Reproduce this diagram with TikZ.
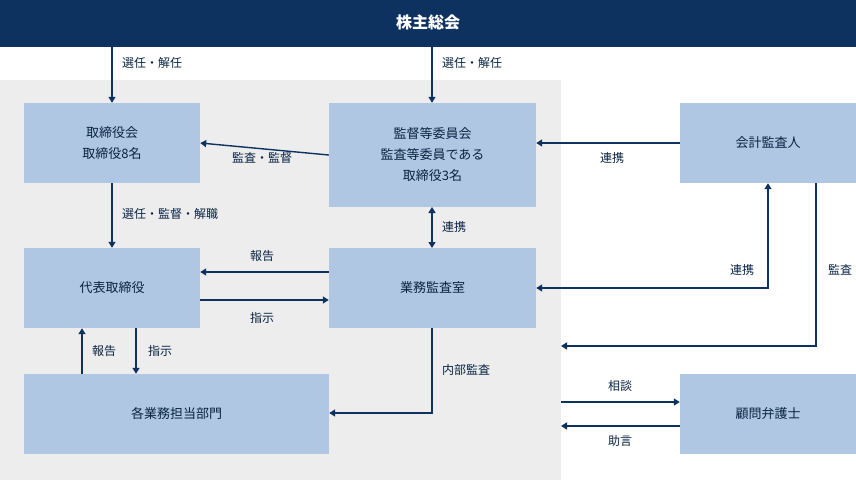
\documentclass[tikz,border=0pt]{standalone}
\usepackage{fontspec}
\setmainfont{Noto Sans CJK JP}
\usetikzlibrary{positioning,arrows.meta}
\definecolor{navy}{HTML}{0E3260}
\definecolor{boxblue}{HTML}{B0C7E3}
\definecolor{bggray}{HTML}{EDEDED}
\tikzset{
	box/.style={fill=boxblue,draw=none,align=center,font=\fontsize{13}{21}\selectfont,text=navy!70!black,inner sep=0pt},
	lbl/.style={font=\fontsize{12}{14}\selectfont,text=navy!70!black,inner sep=0pt},
	arr/.style={draw=navy,line width=1.4pt,-{Triangle[length=6pt,width=7pt]}},
	darr/.style={arr,{Triangle[length=6pt,width=7pt]}-{Triangle[length=6pt,width=7pt]}}
}
\begin{document}
\begin{tikzpicture}[x=1pt,y=-1pt]
	\useasboundingbox (0,0) rectangle (856,480);
	%background
	\fill[bggray]	(0,80) rectangle (561,480);
	\fill[navy]		(0,0) rectangle (856,47);
	\node[text=white,font=\fontsize{16}{18}\selectfont\bfseries] (agm) at (428,22) {株主総会};
	
	%boxes
	\node[box,minimum width=176,minimum height=80]	(board) at (112,143) {取締役会\\取締役8名};
	\node[box,minimum width=207,minimum height=104]	(audit) at (432.5,155) {監督等委員会\\監査等委員である\\取締役3名};
	\node[box,minimum width=176,minimum height=80]	(cpa) at (768,143) {会計監査人};
	\node[box,minimum width=176,minimum height=80]	(ceo) at (112,288) {代表取締役};
	\node[box,minimum width=207,minimum height=80]	(office) at (432.5,288) {業務監査室};
	\node[box,minimum width=305,minimum height=80]	(dept) at (176.5,414) {各業務担当部門};
	\node[box,minimum width=176,minimum height=80]	(lawyer) at (768,414) {顧問弁護士};
	
	%free ends
	\coordinate (c1) at (768,288);
	\coordinate (c2) at (816,346);
	\coordinate (c3) at (561,346);
	\coordinate (c4) at (432,413);
	\coordinate (c5) at (561,402);
	\coordinate (c6) at (561,426);
	
	%connectors
	\draw[arr]	(agm.south -| board) -- (board);
	\draw[arr]	(432,47) -- (audit.north -| 432,0);
	\draw[arr]	(audit.west) -- (board.east);
	\draw[arr]	(cpa.west) -- (audit.east |- cpa);
	\draw[arr]	(board) -- (ceo);
	\draw[darr]	(432,207) -- (432,248);
	\draw[arr]	(office.west |- 0,272) -- (ceo.east |- 0,272);
	\draw[arr]	(ceo.east |- 0,300) -- (office.west |- 0,300);
	\draw[darr]	(office.east) -- (c1) -- (cpa.south -| c1);
	\draw[arr]	(cpa.south -| c2) -- (c2) -- (c3);
	\draw[arr]	(office.south -| c4) -- (c4) -- (dept.east |- c4);
	\draw[arr]	(dept.north -| 82,0) -- (ceo.south -| 82,0);
	\draw[arr]	(ceo.south -| 136,0) -- (dept.north -| 136,0);
	\draw[arr]	(c5) -- (lawyer.west |- c5);
	\draw[arr]	(lawyer.west |- c6) -- (c6);
	
	%labels
	\node[lbl,anchor=west] at (122,63)	{選任・解任};
	\node[lbl,anchor=west] at (442,63)	{選任・解任};
	\node[lbl] at (262,158)				{監査・監督};
	\node[lbl] at (612,158)				{連携};
	\node[lbl,anchor=west] at (122,214)	{選任・監督・解職};
	\node[lbl,anchor=west] at (442,227)	{連携};
	\node[lbl] at (262,256)				{報告};
	\node[lbl] at (262,318)				{指示};
	\node[lbl] at (742,270)				{連携};
	\node[lbl] at (840,270)				{監査};
	\node[lbl,anchor=west] at (442,370)	{内部監査};
	\node[lbl] at (104,351)				{報告};
	\node[lbl] at (160,351)				{指示};
	\node[lbl] at (620,386)				{相談};
	\node[lbl] at (620,441)				{助言};
\end{tikzpicture}
\end{document}
